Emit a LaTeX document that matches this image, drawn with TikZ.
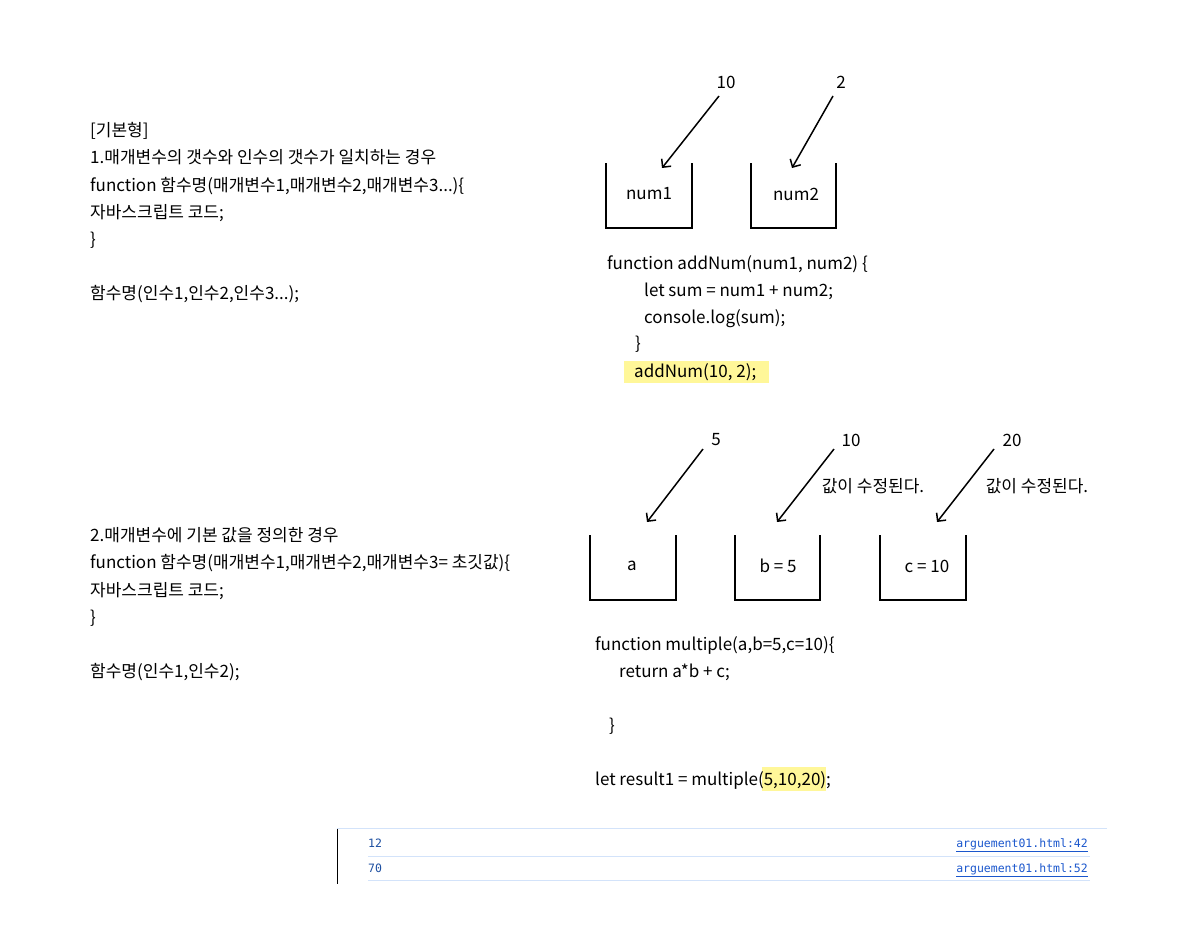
\documentclass[tikz,border=0pt]{standalone}
\usepackage{fontspec}
\setmainfont{Noto Sans CJK KR}
\newfontfamily\consolefont{DejaVu Sans Mono}
\usetikzlibrary{arrows.meta}
\definecolor{hilite}{HTML}{FFF799}
\definecolor{consoleline}{HTML}{D3E3FA}
\definecolor{consoletext}{HTML}{1C4EA0}
\definecolor{linkblue}{HTML}{1A56CC}

\begin{document}
\begin{tikzpicture}[x=1pt,y=-1pt,
  txt/.style={anchor=base west,inner sep=0pt,font=\fontsize{17}{20}\selectfont},
  lbl/.style={inner sep=0pt,font=\fontsize{17}{20}\selectfont},
  cup/.style={line width=2.6pt},
  pointer/.style={line width=1.5pt,-{Straight Barb[length=6pt,width=12pt]}},
  log/.style={anchor=base west,inner sep=0pt,font=\consolefont\fontsize{11.5}{13}\selectfont,text=consoletext},
  src/.style={anchor=base east,inner sep=0pt,font=\consolefont\fontsize{11.5}{13}\selectfont,text=linkblue}]
\useasboundingbox (0,0) rectangle (1197,951);

\node[txt] (t1) at (90,136) {[기본형]};
\node[txt] (t2) at (90,163) {1.매개변수의 갯수와 인수의 갯수가 일치하는 경우};
\node[txt] (t3) at (90,191) {function 함수명(매개변수1,매개변수2,매개변수3...)\{};
\node[txt] (t4) at (90,218) {자바스크립트 코드;};
\node[txt] (t5) at (90,245) {\}};
\node[txt] (t6) at (90,299) {함수명(인수1,인수2,인수3...);};

\node[txt] (u1) at (90,541) {2.매개변수에 기본 값을 정의한 경우};
\node[txt] (u2) at (90,568) {function 함수명(매개변수1,매개변수2,매개변수3= 초깃값)\{};
\node[txt] (u3) at (90,596) {자바스크립트 코드;};
\node[txt] (u4) at (90,623) {\}};
\node[txt] (u5) at (90,677) {함수명(인수1,인수2);};

\draw[cup] (606,163) |- (692,228) -- (692,163);
\draw[cup] (751,163) |- (836,228) -- (836,163);
\node[lbl] (num1) at (649,194) {num1};
\node[lbl] (num2) at (796,194) {num2};
\node[lbl] (v10) at (726,82) {10};
\node[lbl] (v2) at (841,82) {2};
\coordinate (p1) at (662,168);
\coordinate (p2) at (792,168);
\draw[pointer] (719,96) -- (p1);
\draw[pointer] (833,96) -- (p2);

\fill[hilite] (624,361) rectangle (769,383);
\node[txt] (c1) at (607,269) {function addNum(num1, num2) \{};
\node[txt] (c2) at (644,296) {let sum = num1 + num2;};
\node[txt] (c3) at (644,323) {console.log(sum);};
\node[txt] (c4) at (635,349) {\}};
\node[txt] (c5) at (634,377) {addNum(10, 2);};

\draw[cup] (590,535) |- (676,600) -- (676,535);
\draw[cup] (735,535) |- (820,600) -- (820,535);
\draw[cup] (880,535) |- (966,600) -- (966,535);
\node[lbl] (pa) at (632,566) {a};
\node[lbl] (pb) at (778,566) {b = 5};
\node[lbl] (pc) at (927,566) {c = 10};
\node[lbl] (w5) at (716,440) {5};
\node[lbl] (w10) at (851,440) {10};
\node[lbl] (w20) at (1012,440) {20};
\node[lbl] (note1) at (873,486) {값이 수정된다.};
\node[lbl] (note2) at (1037,486) {값이 수정된다.};
\coordinate (q1) at (647,522);
\coordinate (q2) at (777,522);
\coordinate (q3) at (937,522);
\draw[pointer] (703,449) -- (q1);
\draw[pointer] (834,449) -- (q2);
\draw[pointer] (994,449) -- (q3);

\fill[hilite] (762,767) rectangle (826,791);
\node[txt] (d1) at (595,650) {function multiple(a,b=5,c=10)\{};
\node[txt] (d2) at (619,677) {return a*b + c;};
\node[txt] (d3) at (609,731) {\}};
\node[txt] (d4) at (595,785) {let result1 = multiple(5,10,20);};

\draw[line width=1pt] (337,828) -- (337,884);
\draw[consoleline,line width=1pt] (337,828) -- (1107,828);
\draw[consoleline,line width=1pt] (368,856) -- (1090,856);
\draw[consoleline,line width=1pt] (368,880) -- (1090,880);
\node[log] (o1) at (368,847) {12};
\node[log] (o2) at (368,872) {70};
\node[src] (s1) at (1088,847) {\underline{arguement01.html:42}};
\node[src] (s2) at (1088,872) {\underline{arguement01.html:52}};
\end{tikzpicture}
\end{document}
